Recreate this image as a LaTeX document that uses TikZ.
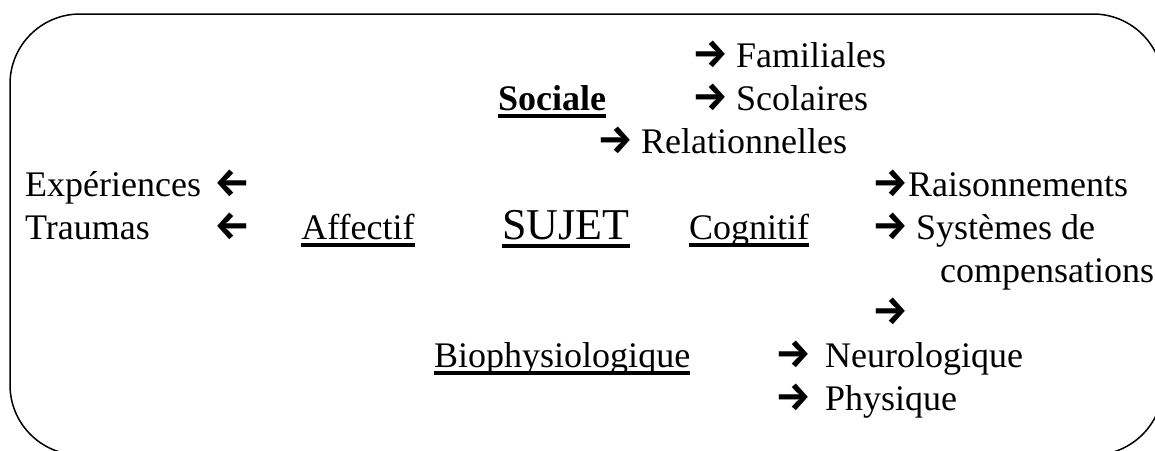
\documentclass[tikz,border=0pt]{standalone}
\usepackage{fontspec}
\setmainfont{Liberation Serif}
\newfontfamily\arrfont{Fira Sans}
\newcommand{\myra}[1][44pt]{\makebox[#1][l]{\fontsize{40}{43}\selectfont\arrfont\bfseries →}}
\newcommand{\myla}{{\fontsize{40}{43}\selectfont\arrfont\bfseries ←}}
\begin{document}
\begin{tikzpicture}[x=1pt,y=-1pt,
  txt/.style={anchor=base west, inner sep=0pt, font=\fontsize{36}{43}\selectfont},
  big/.style={anchor=base west, inner sep=0pt, font=\fontsize{44}{50}\selectfont},
  ul/.style={line width=3.6pt},
  frame/.style={line width=1.5pt, rounded corners=70pt}]
\useasboundingbox (0,0) rectangle (1155,450);
\begin{scope}
  \clip (0,0) rectangle (1155,450);
  \draw[frame] (10,14) rectangle (1163,455);
\end{scope}

% social branch
\node[txt] (fam) at (692,67) {\myra Familiales};
\node[txt, font=\fontsize{36}{43}\selectfont\bfseries] (soc) at (498,110) {Sociale};
\node[txt] (sco) at (692,110) {\myra Scolaires};
\node[txt] (rel) at (597,153) {\myra Relationnelles};

% left branch
\node[txt] (exp) at (25,196) {Expériences};
\node[txt] (expa) at (214,196) {\myla};
\node[txt] (trau) at (25,239) {Traumas};
\node[txt] (traua) at (214,239) {\myla};
\node[txt, anchor=base] (aff) at (358,239) {Affectif};

% centre
\node[big] (suj) at (502,239) {SUJET};

% cognitive branch
\node[txt] (cog) at (689,239) {Cognitif};
\node[txt] (rai) at (872,196) {\myra[36pt]Raisonnements};
\node[txt] (sys) at (872,239) {\myra Systèmes de};
\node[txt] (comp) at (940,282) {compensations};
\node[txt] (ar3) at (872,324) {\myra};

% biophysiological branch
\node[txt] (bio) at (434,367) {Biophysiologique};
\node[txt] (neu) at (775,367) {\myra[50pt]Neurologique};
\node[txt] (phy) at (775,410) {\myra[50pt]Physique};

% underlines
\foreach \n in {soc,aff,cog,bio}
  \draw[ul] ([yshift=-6pt]\n.base west) -- ([yshift=-6pt]\n.base east);
\draw[ul] ([yshift=-7pt]suj.base west) -- ([yshift=-7pt]suj.base east);
\end{tikzpicture}
\end{document}
